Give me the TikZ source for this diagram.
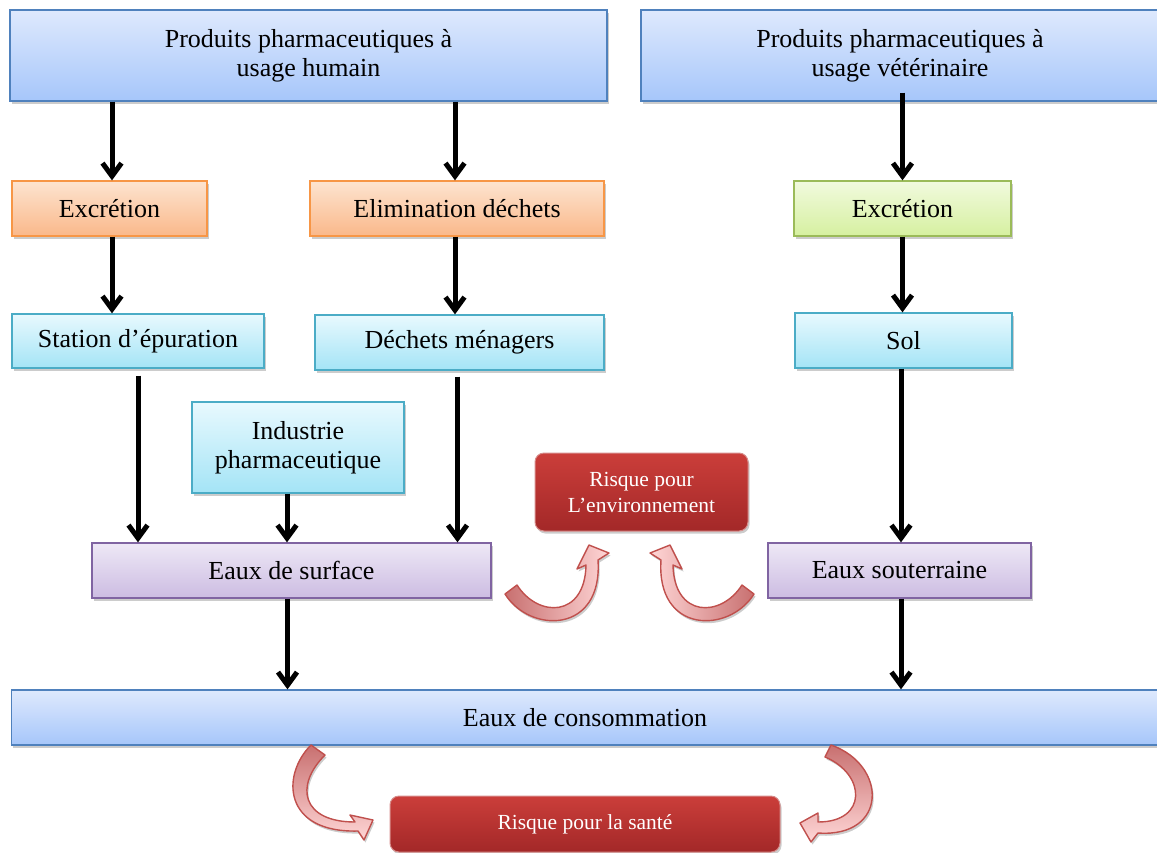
\documentclass[tikz,border=0pt]{standalone}
\usepackage{fontspec}
\setmainfont{Liberation Serif}
\usetikzlibrary{arrows.meta,shadows}
\definecolor{bluetop}{RGB}{222,233,253}
\definecolor{bluebot}{RGB}{166,198,250}
\definecolor{bluedraw}{RGB}{79,129,189}
\definecolor{orgtop}{RGB}{253,228,208}
\definecolor{orgbot}{RGB}{250,184,138}
\definecolor{orgdraw}{RGB}{247,150,70}
\definecolor{grntop}{RGB}{241,250,222}
\definecolor{grnbot}{RGB}{214,240,160}
\definecolor{grndraw}{RGB}{155,187,89}
\definecolor{cyntop}{RGB}{232,249,254}
\definecolor{cynbot}{RGB}{164,228,246}
\definecolor{cyndraw}{RGB}{75,172,198}
\definecolor{purtop}{RGB}{238,232,246}
\definecolor{purbot}{RGB}{204,188,226}
\definecolor{purdraw}{RGB}{128,100,162}
\definecolor{redtop}{RGB}{203,62,58}
\definecolor{redbot}{RGB}{163,40,40}
\definecolor{reddraw}{RGB}{214,140,138}
\definecolor{cadark}{RGB}{200,112,112}
\definecolor{calight}{RGB}{255,214,214}
\definecolor{cadraw}{RGB}{192,80,77}
\begin{document}
\begin{tikzpicture}[x=1pt,y=-1pt,
  sh/.style={drop shadow={shadow xshift=1.5pt,shadow yshift=-2.5pt,opacity=0.4}},
  box/.style={sh,line width=1.3pt,inner sep=0pt,align=center,
    font=\fontsize{26}{29}\selectfont},
  bluebox/.style={box,draw=bluedraw,top color=bluetop,bottom color=bluebot},
  orgbox/.style={box,draw=orgdraw,top color=orgtop,bottom color=orgbot},
  grnbox/.style={box,draw=grndraw,top color=grntop,bottom color=grnbot},
  cynbox/.style={box,draw=cyndraw,top color=cyntop,bottom color=cynbot},
  purbox/.style={box,draw=purdraw,top color=purtop,bottom color=purbot},
  redbox/.style={sh,draw=reddraw,line width=1pt,rounded corners=9pt,inner sep=0pt,
    align=center,top color=redtop,bottom color=redbot,text=white,
    font=\fontsize{21.5}{26}\selectfont},
  arr/.style={line width=5pt,-{Straight Barb[length=13pt,width=19pt]}},
  carrow/.style={sh,draw=cadraw,line width=1.4pt,line join=round}
]
\useasboundingbox (0,0) rectangle (1157,852);

% boxes
\node[bluebox,minimum width=597pt,minimum height=91pt] (hum) at (308.5,55.5)
  {Produits pharmaceutiques à\\usage humain};
\node[bluebox,minimum width=518pt,minimum height=91pt] (vet) at (900,55.5)
  {Produits pharmaceutiques à\\usage vétérinaire};
\node[orgbox,minimum width=195pt,minimum height=55pt] (exc1) at (109.5,208.5) {Excrétion};
\node[orgbox,minimum width=294pt,minimum height=55pt] (elim) at (457,208.5) {Elimination déchets};
\node[grnbox,minimum width=217pt,minimum height=55pt] (exc2) at (902.5,208.5) {Excrétion};
\node[cynbox,minimum width=252pt,minimum height=54pt] (stat) at (138,341) {Station d’épuration};
\node[cynbox,minimum width=289pt,minimum height=55pt] (dech) at (459.5,342.5) {Déchets ménagers};
\node[cynbox,minimum width=217pt,minimum height=55pt] (sol) at (903.5,340.5) {Sol};
\node[cynbox,minimum width=212pt,minimum height=91pt] (ind) at (298,447.5) {Industrie\\pharmaceutique};
\node[redbox,minimum width=213pt,minimum height=78pt] (renv) at (641.5,492) {Risque pour\\L’environnement};
\node[purbox,minimum width=399pt,minimum height=55pt] (surf) at (291.5,570.5) {Eaux de surface};
\node[purbox,minimum width=263pt,minimum height=55pt] (sout) at (899.5,570.5) {Eaux souterraine};
\node[bluebox,minimum width=1149pt,minimum height=55pt] (cons) at (586,717.5) {Eaux de consommation\hspace*{2pt}};
\node[redbox,minimum width=390pt,minimum height=56pt] (rsan) at (585,824) {Risque pour la santé};

% straight arrows
\draw[arr] ([xshift=2.5pt]hum.south -| exc1.north) -- ([xshift=2.5pt]exc1.north);
\draw[arr] ([xshift=-2pt]hum.south -| elim.north) -- ([xshift=-2pt]elim.north);
\draw[arr] ([yshift=9pt]vet.south -| exc2.north) -- (exc2.north);
\draw[arr] ([xshift=2.5pt]exc1.south) -- ([xshift=2.5pt]exc1.south |- stat.north);
\draw[arr] ([xshift=-2pt]elim.south) -- ([xshift=-2pt]elim.south |- dech.north);
\draw[arr] (exc2.south) -- (exc2.south |- sol.north);
\draw[arr] ([yshift=-7pt]stat.south) -- (stat.south |- surf.north);
\draw[arr] ([xshift=-2pt,yshift=-6pt]dech.south) -- ([xshift=-2pt]dech.south |- surf.north);
\draw[arr] ([xshift=-11pt]ind.south) -- ([xshift=-11pt]ind.south |- surf.north);
\draw[arr] ([xshift=-4pt]surf.south) -- ([xshift=-4pt]surf.south |- cons.north);
\draw[arr] ([xshift=1.5pt]sout.south) -- ([xshift=1.5pt]sout.south |- cons.north);
\draw[arr] ([xshift=-2.5pt]sol.south) -- ([xshift=-2.5pt]sol.south |- sout.north);

% curved block arrows towards the risks
\fill[carrow,left color=cadark,right color=calight]
  (505,594) .. controls (530,634) and (603,634) .. (598,560) -- (609,553) -- (589,545)
  -- (577,569) -- (586,565) .. controls (585,618) and (538,618) .. (517,585) -- cycle;
\fill[carrow,right color=cadark,left color=calight]
  (754,594) .. controls (729,634) and (656,634) .. (661,560) -- (650,553) -- (670,545)
  -- (682,569) -- (673,565) .. controls (674,618) and (721,618) .. (742,585) -- cycle;
\fill[carrow,top color=cadark,bottom color=calight]
  (311,745) .. controls (281,775) and (283,833) .. (358,831) -- (364,840) -- (373,820)
  -- (350,815) -- (355,822) .. controls (302,822) and (294,786) .. (325,755) -- cycle;
\fill[carrow,top color=cadark,bottom color=calight]
  (831,745) .. controls (888,765) and (888,838) .. (818,833) -- (811,842) -- (800,823)
  -- (818,813) -- (818,822) .. controls (868,822) and (866,774) .. (825,757) -- cycle;
\end{tikzpicture}
\end{document}
